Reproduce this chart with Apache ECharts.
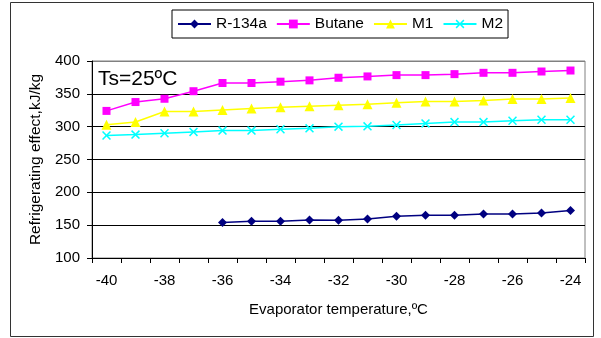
<!DOCTYPE html>
<html>
<head>
<meta charset="utf-8">
<script src="https://cdn.jsdelivr.net/npm/echarts@6/dist/echarts.min.js"></script>
<style>
html,body{margin:0;padding:0;background:#fff;}
#chart{width:601px;height:338px;}
</style>
</head>
<body>
<div id="chart"></div>
<script>
var categories = ['-40','-39','-38','-37','-36','-35','-34','-33','-32','-31','-30','-29','-28','-27','-26','-25','-24'];
var r134a  = [null,null,null,null,154,156,156,158,157.5,159.5,163.5,165,165,167,167,168.5,172.5];
var butane = [324,337.5,342.5,354,366.5,366.5,368.5,370.5,374.5,376.5,378.5,378.5,380,382,382,384,385.5];
var m1     = [303,307,323,323,325.5,327.5,329.5,331,332.5,334,336.5,338.5,338.5,340,342,342,343.5];
var m2     = [286.5,288,290,292,294,294,296,297.5,300,300.5,302.5,305,307,307,309,310.5,310.5];
var yTicks = [100,400,50];

var FONT = '"Liberation Sans", Arial, sans-serif';
var chart = echarts.init(document.getElementById('chart'), null, {renderer:'canvas'});
var xPath = 'path://M0,1.2 L1.2,0 L5,3.8 L8.8,0 L10,1.2 L6.2,5 L10,8.8 L8.8,10 L5,6.2 L1.2,10 L0,8.8 L3.8,5 Z';

function mk(name, data, color, symbol, size){
  return {
    name: name, type: 'line', data: data, symbol: symbol, symbolSize: size,
    showSymbol: true, connectNulls: false,
    lineStyle: {color: color, width: 1.5},
    itemStyle: {color: color},
    animation: false
  };
}

chart.setOption({
  backgroundColor: '#ffffff',
  animation: false,
  textStyle: {fontFamily: FONT, color: '#000'},
  graphic: [
    {type:'rect', shape:{x:10.5, y:2.5, width:583, height:334}, style:{fill:'none', stroke:'#333', lineWidth:1}, silent:true},
    {type:'text', left:98, top:69, style:{text:'Ts=25ºC', font:'21px "Liberation Sans", Arial, sans-serif', fill:'#000'}}
  ],
  legend: {
    left: 172, top: 10,
    padding: [6, 5, 6, 5],
    borderColor: '#000', borderWidth: 1,
    itemWidth: 33, itemHeight: 11, itemGap: 9,
    textStyle: {fontFamily: FONT, fontSize: 15.5, color: '#000'},
    data: ['R-134a','Butane','M1','M2']
  },
  grid: {left: 92, right: 16, top: 61, bottom: 80, show: true, borderColor: '#808080', borderWidth: 1, backgroundColor: '#fff'},
  xAxis: {
    type: 'category', data: categories, boundaryGap: true,
    name: 'Evaporator temperature,ºC', nameLocation: 'middle', nameGap: 44,
    nameTextStyle: {fontFamily: FONT, fontSize: 15, color: '#000'},
    axisLine: {lineStyle: {color: '#000', width: 1}},
    axisTick: {show: true, interval: 0, length: 5, lineStyle: {color: '#000'}},
    axisLabel: {interval: 1, margin: 15, fontFamily: FONT, fontSize: 15, color: '#000'},
    splitLine: {show: false}
  },
  yAxis: {
    type: 'value', min: yTicks[0], max: yTicks[1], interval: yTicks[2],
    name: 'Refrigerating effect,kJ/kg', nameLocation: 'middle', nameGap: 40,
    nameTextStyle: {fontFamily: FONT, fontSize: 15.5, color: '#000'},
    axisLine: {show: true, lineStyle: {color: '#000', width: 1}},
    axisTick: {show: true, length: 5, lineStyle: {color: '#000'}},
    axisLabel: {margin: 12, fontFamily: FONT, fontSize: 15, color: '#000'},
    splitLine: {show: true, lineStyle: {color: ['#000','#000','#000','#000','#000','#000','#808080'], width: 1}}
  },
  series: [
    mk('R-134a', r134a, '#000080', 'diamond', 9),
    mk('Butane', butane, '#FF00FF', 'rect', 8),
    mk('M1', m1, '#FFFF00', 'triangle', 10),
    mk('M2', m2, '#00FFFF', xPath, 9)
  ]
});
</script>
</body>
</html>
